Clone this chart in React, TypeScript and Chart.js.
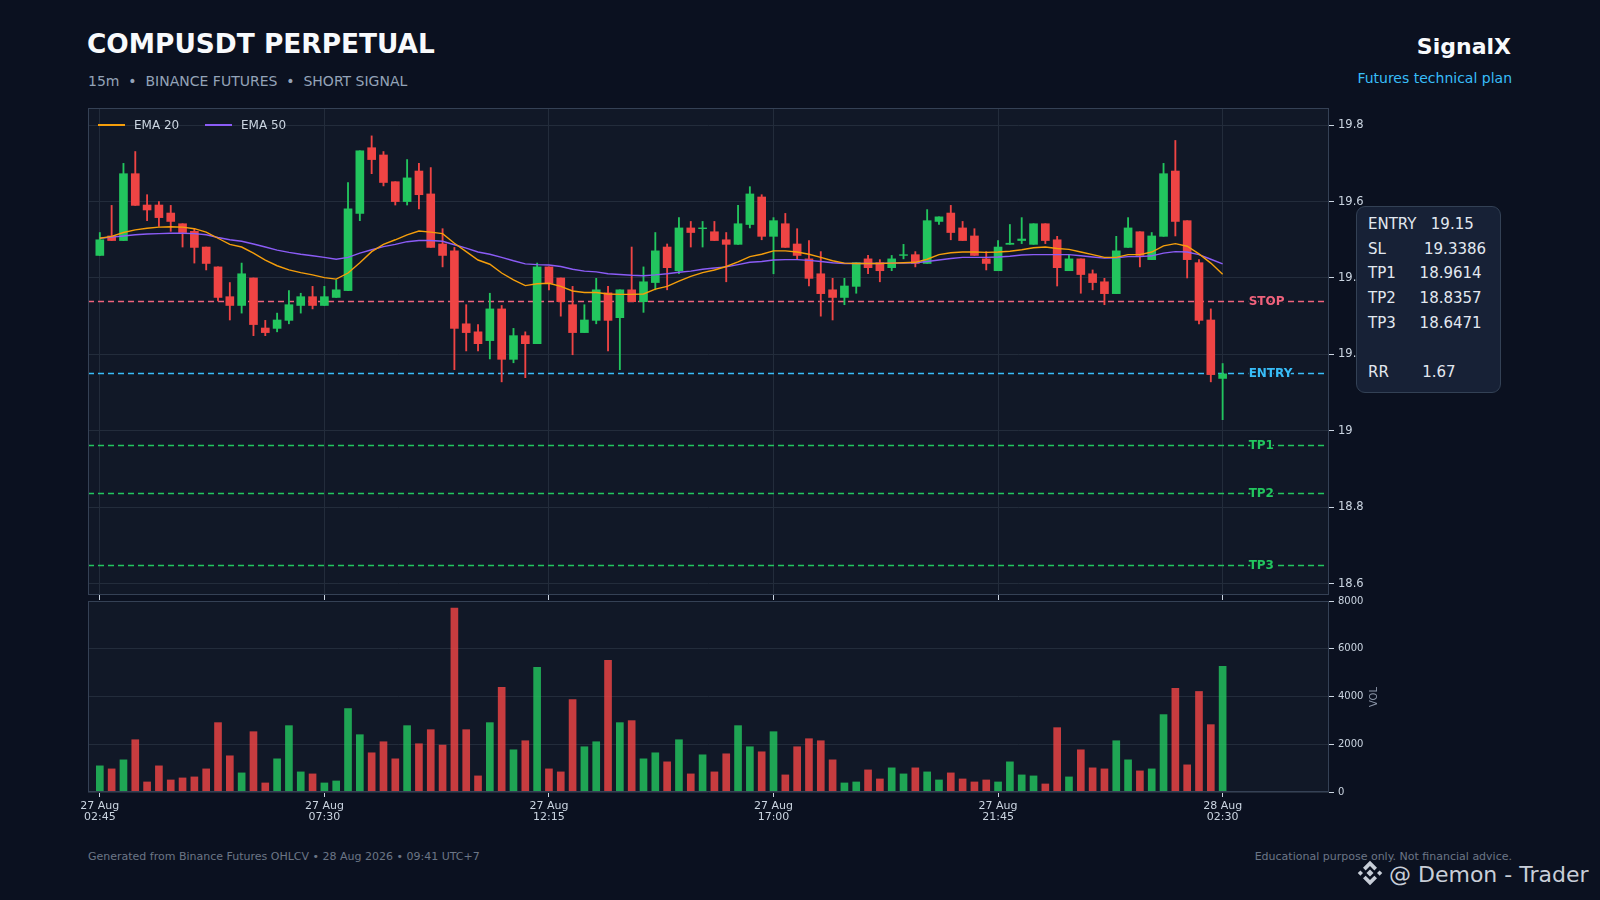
import React, { useEffect, useRef } from "react";
import { Chart, registerables } from "chart.js";

Chart.register(...registerables);
Chart.defaults.font.family = "'DejaVu Sans', sans-serif";

// ---------- DATA ----------
const TICK_INDEX = [0, 19, 38, 57, 76, 95];
const TIME_LABELS = [
  ["27 Aug", "02:45"],
  ["27 Aug", "07:30"],
  ["27 Aug", "12:15"],
  ["27 Aug", "17:00"],
  ["27 Aug", "21:45"],
  ["28 Aug", "02:30"],
];

const OPEN = [
  19.459, 19.51, 19.498, 19.673, 19.591, 19.591, 19.57, 19.542, 19.522, 19.481,
  19.429, 19.351, 19.328, 19.4, 19.269, 19.268, 19.289, 19.328, 19.351, 19.328,
  19.349, 19.367, 19.569, 19.741, 19.722, 19.652, 19.6, 19.68, 19.62, 19.489,
  19.471, 19.28, 19.259, 19.236, 19.319, 19.187, 19.249, 19.228, 19.429, 19.4,
  19.33, 19.257, 19.289, 19.361, 19.296, 19.369, 19.338, 19.388, 19.481, 19.419,
  19.531, 19.529, 19.521, 19.5, 19.488, 19.54, 19.612, 19.509, 19.542, 19.489,
  19.45, 19.411, 19.369, 19.349, 19.378, 19.45, 19.44, 19.427, 19.459, 19.461,
  19.438, 19.548, 19.57, 19.531, 19.51, 19.45, 19.419, 19.488, 19.498, 19.488,
  19.542, 19.5, 19.419, 19.45, 19.411, 19.39, 19.359, 19.48, 19.521, 19.448,
  19.509, 19.68, 19.55, 19.44, 19.29, 19.137,
];
const HIGH = [
  19.519, 19.59, 19.7, 19.731, 19.618, 19.6, 19.59, 19.542, 19.53, 19.481,
  19.429, 19.388, 19.439, 19.4, 19.289, 19.308, 19.367, 19.36, 19.378, 19.378,
  19.395, 19.65, 19.733, 19.772, 19.731, 19.652, 19.71, 19.7, 19.689, 19.529,
  19.48, 19.33, 19.278, 19.36, 19.328, 19.268, 19.259, 19.439, 19.429, 19.4,
  19.378, 19.33, 19.399, 19.378, 19.369, 19.481, 19.429, 19.519, 19.489, 19.558,
  19.548, 19.548, 19.548, 19.519, 19.59, 19.639, 19.618, 19.558, 19.569, 19.529,
  19.498, 19.469, 19.399, 19.399, 19.44, 19.459, 19.448, 19.459, 19.488, 19.469,
  19.579, 19.56, 19.59, 19.548, 19.529, 19.469, 19.498, 19.54, 19.558, 19.542,
  19.542, 19.509, 19.459, 19.45, 19.421, 19.399, 19.509, 19.558, 19.521, 19.519,
  19.7, 19.76, 19.55, 19.448, 19.319, 19.176,
];
const LOW = [
  19.459, 19.498, 19.498, 19.59, 19.55, 19.535, 19.522, 19.481, 19.439, 19.421,
  19.34, 19.29, 19.308, 19.249, 19.249, 19.259, 19.28, 19.308, 19.319, 19.328,
  19.349, 19.367, 19.55, 19.673, 19.641, 19.591, 19.591, 19.581, 19.48, 19.429,
  19.16, 19.209, 19.209, 19.188, 19.128, 19.178, 19.139, 19.228, 19.369, 19.3,
  19.199, 19.257, 19.28, 19.209, 19.16, 19.338, 19.31, 19.369, 19.369, 19.411,
  19.481, 19.481, 19.498, 19.39, 19.488, 19.531, 19.5, 19.411, 19.48, 19.45,
  19.379, 19.3, 19.29, 19.33, 19.36, 19.411, 19.39, 19.419, 19.45, 19.429,
  19.438, 19.54, 19.5, 19.498, 19.459, 19.421, 19.419, 19.488, 19.49, 19.488,
  19.49, 19.379, 19.419, 19.36, 19.369, 19.33, 19.359, 19.48, 19.429, 19.448,
  19.509, 19.51, 19.4, 19.28, 19.128, 19.029,
];
const CLOSE = [
  19.5, 19.498, 19.673, 19.59, 19.578, 19.558, 19.548, 19.519, 19.48, 19.438,
  19.349, 19.328, 19.411, 19.278, 19.257, 19.29, 19.33, 19.351, 19.328, 19.351,
  19.369, 19.581, 19.733, 19.71, 19.65, 19.6, 19.662, 19.618, 19.48, 19.459,
  19.268, 19.257, 19.228, 19.319, 19.187, 19.249, 19.228, 19.429, 19.386, 19.338,
  19.257, 19.29, 19.369, 19.289, 19.369, 19.338, 19.39, 19.471, 19.427, 19.531,
  19.519, 19.531, 19.498, 19.488, 19.542, 19.62, 19.509, 19.55, 19.48, 19.459,
  19.399, 19.359, 19.349, 19.379, 19.44, 19.427, 19.419, 19.45, 19.461, 19.438,
  19.55, 19.56, 19.519, 19.498, 19.459, 19.438, 19.481, 19.491, 19.502, 19.542,
  19.498, 19.427, 19.45, 19.409, 19.388, 19.359, 19.471, 19.531, 19.459, 19.51,
  19.673, 19.548, 19.448, 19.289, 19.147, 19.149,
];
const VOLUME = [
  1095, 968, 1347, 2189, 421, 1095, 505, 589, 632, 968,
  2905, 1516, 800, 2526, 379, 1389, 2779, 842, 758, 379,
  463, 3495, 2400, 1642, 2105, 1389, 2779, 2021, 2610, 1965,
  7705, 2610, 674, 2905, 4379, 1768, 2147, 5221, 968, 842,
  3874, 1895, 2105, 5516, 2905, 2989, 1389, 1642, 1263, 2189,
  758, 1558, 842, 1600, 2779, 1895, 1684, 2526, 716, 1895,
  2232, 2147, 1347, 379, 421, 926, 547, 1011, 758, 1011,
  842, 505, 800, 547, 421, 505, 421, 1263, 716, 674,
  337, 2695, 632, 1768, 1011, 968, 2147, 1347, 884, 968,
  3242, 4337, 1137, 4211, 2821, 5263,
];
const EMA20 = [
  19.504, 19.509, 19.519, 19.526, 19.53, 19.533, 19.534, 19.533, 19.529, 19.52,
  19.504, 19.488, 19.481, 19.465, 19.447, 19.432, 19.421, 19.414, 19.408, 19.401,
  19.397, 19.413, 19.44, 19.469, 19.488, 19.5, 19.513, 19.523, 19.52, 19.516,
  19.491, 19.469, 19.447, 19.436, 19.413, 19.395, 19.38, 19.385, 19.386, 19.378,
  19.366, 19.362, 19.362, 19.358, 19.357, 19.357, 19.358, 19.371, 19.378, 19.392,
  19.404, 19.414, 19.421, 19.43, 19.442, 19.456, 19.462, 19.471, 19.471, 19.468,
  19.462, 19.454, 19.445, 19.439, 19.438, 19.438, 19.438, 19.439, 19.44, 19.441,
  19.449, 19.461, 19.466, 19.468, 19.468, 19.467, 19.468, 19.47, 19.474, 19.479,
  19.481, 19.477, 19.475, 19.468, 19.461, 19.454, 19.454, 19.461, 19.461, 19.468,
  19.484, 19.49, 19.483, 19.463, 19.439, 19.41,
];
const EMA50 = [
  19.504, 19.507, 19.51, 19.513, 19.515, 19.516, 19.517, 19.517, 19.516, 19.513,
  19.506, 19.5, 19.496, 19.489, 19.481, 19.473, 19.467, 19.462, 19.458, 19.454,
  19.449, 19.454, 19.465, 19.474, 19.482, 19.488, 19.495, 19.498, 19.498, 19.496,
  19.487, 19.478, 19.468, 19.462, 19.454, 19.445, 19.437, 19.435, 19.434, 19.43,
  19.423, 19.418, 19.416, 19.411, 19.409, 19.407, 19.406, 19.408, 19.411, 19.415,
  19.418, 19.423, 19.426, 19.429, 19.435, 19.441, 19.443, 19.447, 19.448, 19.448,
  19.446, 19.443, 19.44, 19.438, 19.438, 19.438, 19.438, 19.439, 19.439, 19.44,
  19.443, 19.447, 19.451, 19.454, 19.454, 19.454, 19.455, 19.457, 19.46, 19.461,
  19.461, 19.461, 19.461, 19.458, 19.455, 19.452, 19.453, 19.456, 19.456, 19.458,
  19.465, 19.469, 19.468, 19.461, 19.449, 19.437,
];
const PRICE_TICKS = [18.6, 18.8, 19.0, 19.2, 19.4, 19.6, 19.8];
const VOLUME_TICKS = [0, 2000, 4000, 6000, 8000];
const LEVEL_NAMES = ["STOP", "ENTRY", "TP1", "TP2", "TP3"];
const LEVEL_VALUES = [19.3386, 19.15, 18.9614, 18.8357, 18.6471];
const RR = "1.67";

// ---------- STYLE ----------
const X_MIN = -1;
const X_MAX = 104;
const LABEL_X = 97.2;
const PAGE_BG = "#0b1120";
const PANEL_BG = "#111827";
const GRID = "#232c3b";
const FRAME = "#354155";
const TICK_TEXT = "#cbd5e1";
const UP = "#22c55e";
const DOWN = "#ef4444";
const VOL_UP = "rgba(34,197,94,0.82)";
const VOL_DOWN = "rgba(239,68,68,0.82)";
const LEVEL_COLORS = ["#f0627c", "#38bdf8", "#22c55e", "#22c55e", "#22c55e"];

const panelPlugin = {
  id: "panel",
  beforeDraw(chart: any) {
    const { ctx, chartArea: a } = chart;
    ctx.save();
    ctx.fillStyle = PANEL_BG;
    ctx.fillRect(a.left, a.top, a.right - a.left, a.bottom - a.top);
    ctx.restore();
  },
  afterDraw(chart: any) {
    const { ctx, chartArea: a } = chart;
    ctx.save();
    ctx.strokeStyle = FRAME;
    ctx.lineWidth = 1;
    ctx.strokeRect(a.left + 0.5, a.top + 0.5, a.right - a.left - 1, a.bottom - a.top - 1);
    ctx.restore();
  },
};

const levelLabelPlugin = {
  id: "levelLabels",
  afterDatasetsDraw(chart: any) {
    const { ctx, scales } = chart;
    ctx.save();
    ctx.font = "bold 12px 'DejaVu Sans', sans-serif";
    ctx.textAlign = "left";
    ctx.textBaseline = "middle";
    LEVEL_VALUES.forEach((v, k) => {
      const x = scales.x.getPixelForValue(LABEL_X);
      const y = scales.y.getPixelForValue(v);
      ctx.lineWidth = 3;
      ctx.strokeStyle = PANEL_BG;
      ctx.strokeText(LEVEL_NAMES[k], x, y);
      ctx.fillStyle = LEVEL_COLORS[k];
      ctx.fillText(LEVEL_NAMES[k], x, y);
    });
    ctx.restore();
  },
};

const fmtPrice = (v: any) => {
  const n = Number(v);
  return Math.abs(n - Math.round(n)) < 1e-9 ? String(Math.round(n)) : n.toFixed(1);
};

export default function App() {
  const priceRef = useRef<HTMLCanvasElement>(null);
  const volRef = useRef<HTMLCanvasElement>(null);

  useEffect(() => {
    const candleColors = CLOSE.map((c, i) => (c >= OPEN[i] ? UP : DOWN));
    const volColors = CLOSE.map((c, i) => (c >= OPEN[i] ? VOL_UP : VOL_DOWN));

    const price = new Chart(priceRef.current as HTMLCanvasElement, {
      type: "bar",
      data: {
        datasets: [
          {
            type: "line",
            label: "EMA 20",
            data: EMA20.map((y, i) => ({ x: i, y })),
            borderColor: "#f59e0b",
            borderWidth: 1.4,
            pointRadius: 0,
            tension: 0,
            order: 0,
          },
          {
            type: "line",
            label: "EMA 50",
            data: EMA50.map((y, i) => ({ x: i, y })),
            borderColor: "#8b5cf6",
            borderWidth: 1.4,
            pointRadius: 0,
            tension: 0,
            order: 0,
          },
          {
            type: "bar",
            label: "Body",
            data: OPEN.map((o, i) => ({ x: i, y: [o, CLOSE[i]] })),
            backgroundColor: candleColors,
            borderWidth: 0,
            barThickness: 8,
            grouped: false,
            order: 1,
          },
          {
            type: "bar",
            label: "Wick",
            data: LOW.map((l, i) => ({ x: i, y: [l, HIGH[i]] })),
            backgroundColor: candleColors,
            borderWidth: 0,
            barThickness: 1.2,
            grouped: false,
            order: 2,
          },
          ...LEVEL_VALUES.map((v, k) => ({
            type: "line",
            label: LEVEL_NAMES[k],
            data: [
              { x: X_MIN, y: v },
              { x: X_MAX, y: v },
            ],
            borderColor: LEVEL_COLORS[k],
            borderWidth: 1.5,
            borderDash: [6, 4],
            pointRadius: 0,
            order: 3,
          })),
        ] as any,
      },
      options: {
        responsive: false,
        maintainAspectRatio: false,
        animation: false,
        events: [],
        layout: { padding: { left: 88, top: 8, right: 0, bottom: 0 } },
        plugins: { legend: { display: false }, tooltip: { enabled: false } },
        scales: {
          x: {
            type: "linear",
            min: X_MIN,
            max: X_MAX,
            offset: false,
            border: { display: false },
            grid: { offset: false, color: GRID, tickColor: TICK_TEXT, tickLength: 5, drawTicks: true },
            ticks: { display: false },
            afterBuildTicks: (s: any) => {
              s.ticks = TICK_INDEX.map((v) => ({ value: v }));
            },
            afterFit: (s: any) => {
              s.height = 7;
              s.paddingLeft = 0;
              s.paddingRight = 0;
            },
          },
          y: {
            type: "linear",
            position: "right",
            min: 18.57,
            max: 19.845,
            border: { display: false },
            grid: { color: GRID, tickColor: TICK_TEXT, tickLength: 5 },
            ticks: { color: TICK_TEXT, font: { size: 11.5 }, padding: 4, callback: fmtPrice },
            afterBuildTicks: (s: any) => {
              s.ticks = PRICE_TICKS.map((v) => ({ value: v }));
            },
            afterFit: (s: any) => {
              s.width = 60;
              s.paddingTop = 0;
              s.paddingBottom = 0;
            },
          },
        },
      } as any,
      plugins: [panelPlugin, levelLabelPlugin],
    });

    const vol = new Chart(volRef.current as HTMLCanvasElement, {
      type: "bar",
      data: {
        datasets: [
          {
            label: "Volume",
            data: VOLUME.map((v, i) => ({ x: i, y: v })),
            backgroundColor: volColors,
            borderWidth: 0,
            barThickness: 7,
          },
        ],
      },
      options: {
        responsive: false,
        maintainAspectRatio: false,
        animation: false,
        events: [],
        layout: { padding: { left: 88, top: 8, right: 0, bottom: 0 } },
        plugins: { legend: { display: false }, tooltip: { enabled: false } },
        scales: {
          x: {
            type: "linear",
            min: X_MIN,
            max: X_MAX,
            offset: false,
            border: { display: false },
            grid: { offset: false, drawOnChartArea: false, tickColor: TICK_TEXT, tickLength: 5 },
            ticks: {
              color: TICK_TEXT,
              font: { size: 11, lineHeight: 1.05 },
              padding: 3,
              maxRotation: 0,
              autoSkip: false,
              callback: (v: any) => {
                const k = TICK_INDEX.indexOf(Number(v));
                return k >= 0 ? TIME_LABELS[k] : "";
              },
            },
            afterBuildTicks: (s: any) => {
              s.ticks = TICK_INDEX.map((v) => ({ value: v }));
            },
            afterFit: (s: any) => {
              s.height = 40;
              s.paddingLeft = 0;
              s.paddingRight = 0;
            },
          },
          y: {
            type: "linear",
            position: "right",
            min: 0,
            max: 8000,
            border: { display: false },
            grid: { color: GRID, tickColor: TICK_TEXT, tickLength: 5 },
            ticks: { color: TICK_TEXT, font: { size: 10 }, padding: 4, callback: (v: any) => String(v) },
            afterBuildTicks: (s: any) => {
              s.ticks = VOLUME_TICKS.map((v) => ({ value: v }));
            },
            afterFit: (s: any) => {
              s.width = 60;
              s.paddingTop = 0;
              s.paddingBottom = 0;
            },
          },
        },
      } as any,
      plugins: [panelPlugin],
    });

    return () => {
      price.destroy();
      vol.destroy();
    };
  }, []);

  const font = "'DejaVu Sans', sans-serif";
  const abs = (o: React.CSSProperties): React.CSSProperties => ({ position: "absolute", whiteSpace: "pre", ...o });

  const infoLines = [
    `ENTRY   ${LEVEL_VALUES[1]}`,
    `SL        ${LEVEL_VALUES[0]}`,
    `TP1     ${LEVEL_VALUES[2]}`,
    `TP2     ${LEVEL_VALUES[3]}`,
    `TP3     ${LEVEL_VALUES[4]}`,
    ``,
    `RR       ${RR}`,
  ].join("\n");

  return (
    <div
      style={{
        position: "fixed",
        left: 0,
        top: 0,
        width: 1600,
        height: 900,
        background: PAGE_BG,
        overflow: "hidden",
        fontFamily: font,
      }}
    >
      <div style={abs({ left: 87, top: 31, fontSize: 26.4, lineHeight: "26px", fontWeight: 700, color: "#f8fafc" })}>
        COMPUSDT PERPETUAL
      </div>
      <div style={abs({ left: 88, top: 74, fontSize: 14, lineHeight: "14px", color: "#94a3b8" })}>
        {"15m  •  BINANCE FUTURES  •  SHORT SIGNAL"}
      </div>
      <div style={abs({ right: 89, top: 35.5, fontSize: 22, lineHeight: "22px", fontWeight: 700, color: "#f8fafc" })}>
        SignalX
      </div>
      <div style={abs({ right: 88, top: 71, fontSize: 14, lineHeight: "14px", color: "#38bdf8" })}>
        Futures technical plan
      </div>

      <canvas
        ref={priceRef}
        width={1389}
        height={502}
        style={{ position: "absolute", left: 0, top: 100, width: 1389, height: 502 }}
      />
      <canvas
        ref={volRef}
        width={1389}
        height={239}
        style={{ position: "absolute", left: 0, top: 593, width: 1389, height: 239 }}
      />

      {/* legend */}
      <div style={abs({ left: 98, top: 124, width: 27, height: 2, background: "#f59e0b" })} />
      <div style={abs({ left: 134, top: 119, fontSize: 12, lineHeight: "12px", color: TICK_TEXT })}>EMA 20</div>
      <div style={abs({ left: 205, top: 124, width: 27, height: 2, background: "#8b5cf6" })} />
      <div style={abs({ left: 241, top: 119, fontSize: 12, lineHeight: "12px", color: TICK_TEXT })}>EMA 50</div>

      {/* info box */}
      <div
        style={abs({
          left: 1356,
          top: 206,
          width: 143,
          height: 185,
          background: "#172136",
          border: "1px solid #334155",
          borderRadius: 9,
        })}
      />
      <div style={abs({ left: 1368, top: 212, fontSize: 15, lineHeight: "24.7px", color: "#e2e8f0" })}>
        {infoLines}
      </div>

      {/* volume axis title */}
      <div
        style={abs({
          left: 1374,
          top: 697,
          fontSize: 10,
          lineHeight: "10px",
          color: "#8b95a7",
          transform: "translate(-50%, -50%) rotate(-90deg)",
        })}
      >
        VOL
      </div>

      {/* footer */}
      <div style={abs({ left: 88, top: 850.5, fontSize: 11, lineHeight: "11px", color: "#6b7686" })}>
        Generated from Binance Futures OHLCV • 28 Aug 2026 • 09:41 UTC+7
      </div>
      <div style={abs({ right: 88, top: 850.5, fontSize: 11, lineHeight: "11px", color: "#6b7686" })}>
        Educational purpose only. Not financial advice.
      </div>

      {/* watermark */}
      <svg
        width={28}
        height={28}
        viewBox="0 0 32 32"
        style={{ position: "absolute", left: 1356, top: 859 }}
      >
        <g fill="#c8ced8">
          <polygon points="16,2 24,10 21,13 16,8 11,13 8,10" />
          <polygon points="16,30 24,22 21,19 16,24 11,19 8,22" />
          <polygon points="2,16 5,13 8,16 5,19" />
          <polygon points="30,16 27,13 24,16 27,19" />
          <polygon points="16,12 20,16 16,20 12,16" />
        </g>
      </svg>
      <div style={abs({ left: 1389, top: 864, fontSize: 22, lineHeight: "22px", color: "#c8ced8" })}>
        @ Demon - Trader
      </div>
    </div>
  );
}
